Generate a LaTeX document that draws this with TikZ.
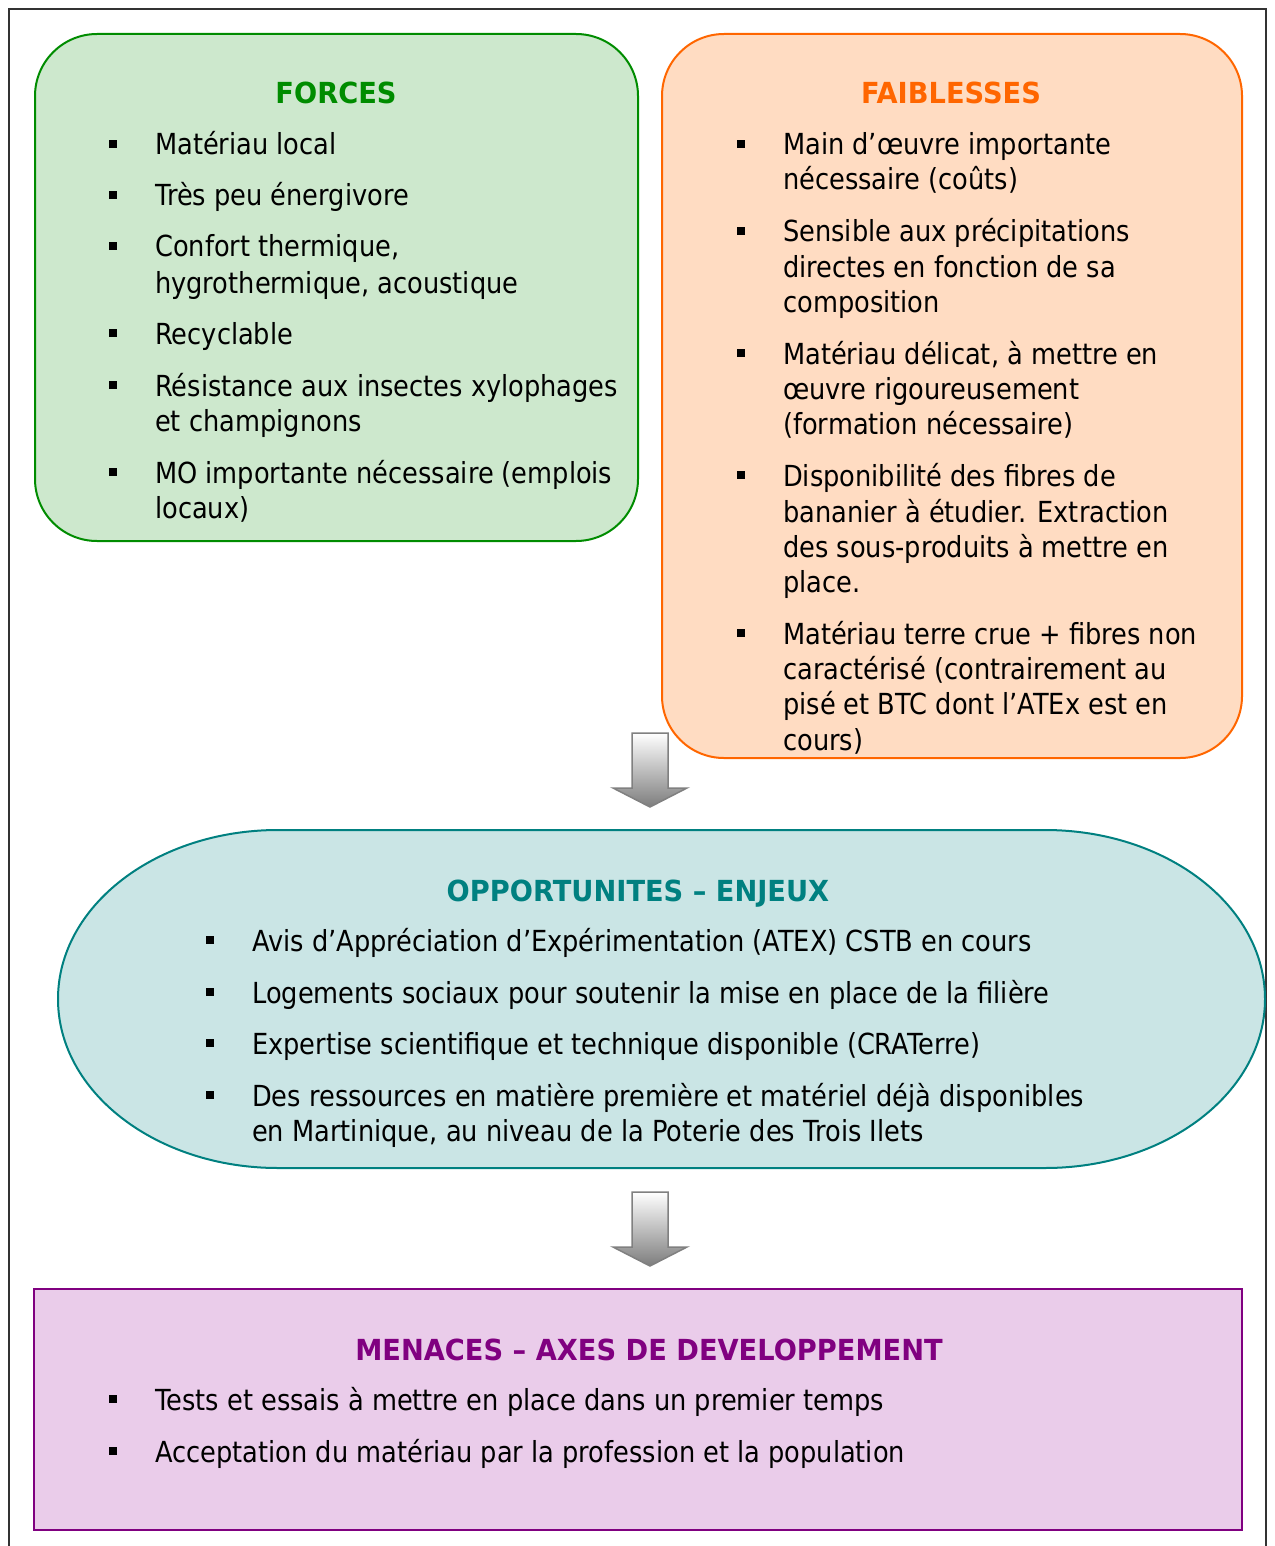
\documentclass[tikz,border=0pt]{standalone}
\usepackage{fontspec}
\setmainfont{DejaVu Sans}[FakeStretch=0.885, BoldFeatures={FakeStretch=0.94}]
\definecolor{frcline}{RGB}{0,140,0}
\definecolor{frcfill}{RGB}{205,232,205}
\definecolor{failine}{RGB}{255,102,0}
\definecolor{faifill}{RGB}{255,220,194}
\definecolor{oppline}{RGB}{0,128,128}
\definecolor{oppfill}{RGB}{202,229,229}
\definecolor{menline}{RGB}{128,0,128}
\definecolor{menfill}{RGB}{234,204,234}
\definecolor{arrline}{RGB}{128,128,128}
\definecolor{arrbot}{RGB}{125,125,125}
% bullet square followed by the first line of an item
\newcommand\bitem[5]{%
  \fill (#2-4,#4-15) rectangle ++(8,8);
  \node[txt] (#1) at (#3,#4) {#5};}
% downward block arrow, tip at (#1,#2)
\newcommand\blockdown[2]{%
  \shade[top color=white, bottom color=arrbot, draw=arrline, line width=1.5pt, line join=miter]
    (#1-18,#2-74) -- (#1+18,#2-74) -- (#1+18,#2-19) -- (#1+37,#2-19) -- (#1,#2)
    -- (#1-37,#2-19) -- (#1-18,#2-19) -- cycle;}
\begin{document}
\begin{tikzpicture}[x=1pt,y=-1pt,
  txt/.style={anchor=base west, inner sep=0pt, font=\fontsize{29}{35}\selectfont},
  ttl/.style={anchor=base, inner sep=0pt, font=\fontsize{29}{35}\selectfont\bfseries},
  box/.style={inner sep=0pt, line width=2pt}]
\useasboundingbox (0,0) rectangle (1274,1546);
% outer frame
\draw[line width=2.5pt, black!80] (9,1560) -- (9,9) -- (1266,9) -- (1266,1560);

% boxes
\node[box, draw=frcline, fill=frcfill, rounded corners=62pt,
      minimum width=603pt, minimum height=507pt] (forces) at (336.5,287.5) {};
\node[box, draw=failine, fill=faifill, rounded corners=62pt,
      minimum width=580pt, minimum height=724pt] (faib) at (952,396) {};
\draw[line width=2pt, draw=oppline, fill=oppfill]
  (278,830) -- (1045,830) arc[start angle=-90, end angle=90, x radius=220, y radius=169]
  -- (278,1168) arc[start angle=90, end angle=270, x radius=220, y radius=169] -- cycle;
\coordinate (opp) at (661.5,999);
\node[box, line width=2.5pt, draw=menline, fill=menfill,
      minimum width=1208pt, minimum height=241pt] (men) at (638,1409.5) {};

% arrows between the boxes
\blockdown{650}{807}
\blockdown{650}{1266}

% FORCES
\node[ttl, text=frcline] (t1) at (336,104) {FORCES};
\bitem{f1}{113}{155}{155}{Matériau local}
\bitem{f2}{113}{155}{206}{Très peu énergivore}
\bitem{f3}{113}{155}{257}{Confort thermique,}
\node[txt] (f3b) at (155,293) {hygrothermique, acoustique};
\bitem{f4}{113}{155}{344}{Recyclable}
\bitem{f5}{113}{155}{396}{Résistance aux insectes xylophages}
\node[txt] (f5b) at (155,431) {et champignons};
\bitem{f6}{113}{155}{483}{MO importante nécessaire (emplois}
\node[txt] (f6b) at (155,518) {locaux)};

% FAIBLESSES
\node[ttl, text=failine] (t2) at (951,104) {FAIBLESSES};
\bitem{w1}{741}{783}{155}{Main d’œuvre importante}
\node[txt] (w1b) at (783,190) {nécessaire (coûts)};
\bitem{w2}{741}{783}{242}{Sensible aux précipitations}
\node[txt] (w2b) at (783,277) {directes en fonction de sa};
\node[txt] (w2c) at (783,312) {composition};
\bitem{w3}{741}{783}{364}{Matériau délicat, à mettre en}
\node[txt] (w3b) at (783,399) {œuvre rigoureusement};
\node[txt] (w3c) at (783,434) {(formation nécessaire)};
\bitem{w4}{741}{783}{486}{Disponibilité des fibres de}
\node[txt] (w4b) at (783,522) {bananier à étudier. Extraction};
\node[txt] (w4c) at (783,557) {des sous-produits à mettre en};
\node[txt] (w4d) at (783,592) {place.};
\bitem{w5}{741}{783}{644}{Matériau terre crue + fibres non}
\node[txt] (w5b) at (783,679) {caractérisé (contrairement au};
\node[txt] (w5c) at (783,714) {pisé et BTC dont l’ATEx est en};
\node[txt] (w5d) at (783,750) {cours)};

% OPPORTUNITES
\node[ttl, text=oppline] (t3) at (638,901) {OPPORTUNITES – ENJEUX};
\bitem{o1}{210}{252}{951}{Avis d’Appréciation d’Expérimentation (ATEX) CSTB en cours}
\bitem{o2}{210}{252}{1003}{Logements sociaux pour soutenir la mise en place de la filière}
\bitem{o3}{210}{252}{1054}{Expertise scientifique et technique disponible (CRATerre)}
\bitem{o4}{210}{252}{1106}{Des ressources en matière première et matériel déjà disponibles}
\node[txt] (o4b) at (252,1141) {en Martinique, au niveau de la Poterie des Trois Ilets};

% MENACES
\node[ttl, text=menline] (t4) at (649,1360) {MENACES – AXES DE DEVELOPPEMENT};
\bitem{m1}{113}{155}{1410}{Tests et essais à mettre en place dans un premier temps}
\bitem{m2}{113}{155}{1462}{Acceptation du matériau par la profession et la population}
\end{tikzpicture}
\end{document}
